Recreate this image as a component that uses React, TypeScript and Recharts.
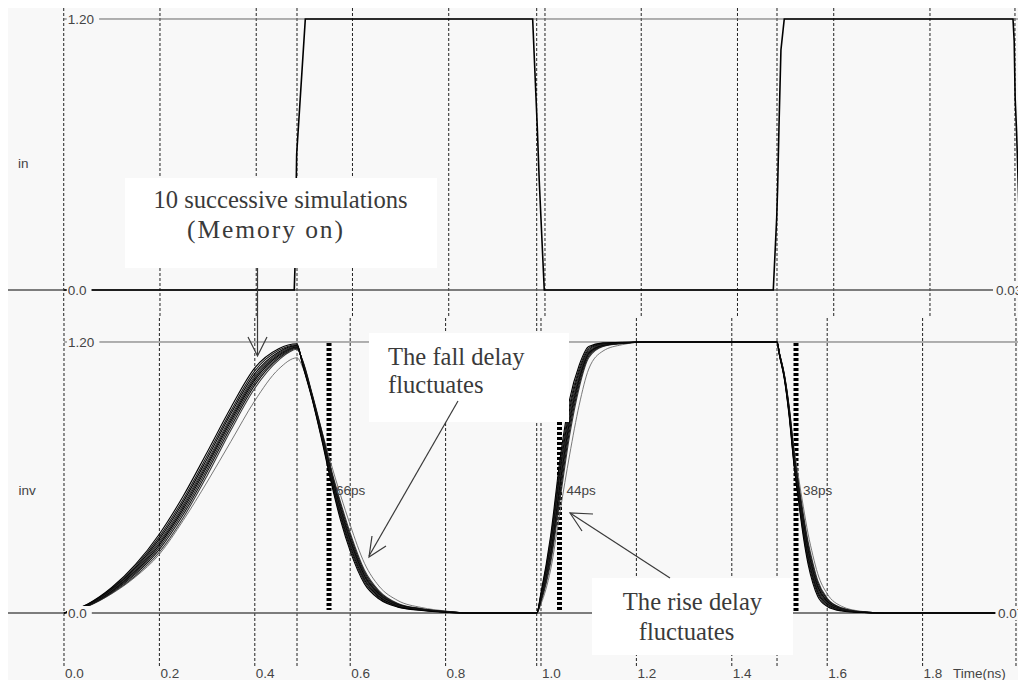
import { LineChart, Line, XAxis, YAxis, ReferenceLine, ReferenceDot } from 'recharts';

const BG = '#f8f8f8';
const SANS = '"Liberation Sans", Arial, sans-serif';
const SERIF = '"Liberation Serif", "Times New Roman", serif';

// time axis (ns)
const TIME_TICKS = [0, 0.2, 0.4, 0.6, 0.8, 1.0, 1.2, 1.4, 1.6, 1.8, 1.8616];
const TIME_LABELS = ['0.0', '0.2', '0.4', '0.6', '0.8', '1.0', '1.2', '1.4', '1.6', '1.8', 'Time(ns)'];
const GRID_TIMES = [0, 0.2, 0.4, 0.6, 0.8, 1.0, 1.2, 1.4, 1.6, 1.8];
// cursor lines sitting on the input edges
const IN_CURSORS = [0.4847, 0.9828, 1.4821, 1.9766];
const INV_CURSORS = [0.4885, 0.991, 1.4948, 1.9958];

// input pulse "in"
const IN_T = [0, 0.479, 0.4805, 0.484, 0.502, 0.9744, 0.9813, 0.984, 0.988, 0.9985, 1.4744, 1.4815, 1.4835, 1.4862, 1.4903, 1.4972, 1.9725, 1.975, 1.977, 1.98, 1.99];
const IN_V = [0, 0, 0.1, 0.6, 1.2, 1.2, 0.855, 0.722, 0.487, 0, 0, 0.32, 0.456, 0.72, 1.063, 1.2, 1.2, 1.1, 0.85, 0.7, 0];

// inverter output "inv", 10 successive runs
const T_INV = [
  0, 0.05, 0.1, 0.15, 0.2, 0.25, 0.3, 0.35, 0.4, 0.45, 0.4885,
  0.5, 0.52, 0.54, 0.56, 0.58, 0.6, 0.63, 0.66, 0.7, 0.75, 0.8, 0.85,
  0.991,
  1.0, 1.02, 1.04, 1.06, 1.08, 1.1, 1.13, 1.17, 1.22,
  1.4948,
  1.5, 1.51, 1.52, 1.53, 1.54, 1.55, 1.56, 1.57, 1.58, 1.6, 1.63, 1.67, 1.72,
  1.952,
];
const RUN_1 = [
  0, 0.04, 0.113, 0.215, 0.35, 0.518, 0.712, 0.91, 1.085, 1.17, 1.192,
  1.1, 0.948, 0.77, 0.578, 0.409, 0.274, 0.129, 0.063, 0.026, 0.011, 0.003, 0,
  0,
  0.09, 0.34, 0.683, 0.946, 1.097, 1.18, 1.196, 1.199, 1.2,
  1.2,
  1.14, 1.038, 0.876, 0.662, 0.494, 0.337, 0.215, 0.131, 0.074, 0.029, 0.009, 0.002, 0,
  0,
];
const RUN_2 = [
  0, 0.039, 0.109, 0.208, 0.338, 0.504, 0.696, 0.895, 1.072, 1.163, 1.188,
  1.103, 0.952, 0.776, 0.587, 0.421, 0.286, 0.138, 0.068, 0.028, 0.012, 0.004, 0,
  0,
  0.084, 0.322, 0.656, 0.922, 1.082, 1.173, 1.194, 1.198, 1.2,
  1.2,
  1.142, 1.041, 0.882, 0.671, 0.506, 0.352, 0.23, 0.145, 0.085, 0.034, 0.011, 0.003, 0,
  0,
];
const RUN_3 = [
  0, 0.037, 0.106, 0.201, 0.328, 0.492, 0.683, 0.883, 1.06, 1.156, 1.185,
  1.106, 0.955, 0.781, 0.595, 0.431, 0.296, 0.146, 0.073, 0.03, 0.013, 0.004, 0,
  0,
  0.079, 0.307, 0.634, 0.902, 1.07, 1.166, 1.192, 1.197, 1.2,
  1.2,
  1.143, 1.044, 0.887, 0.679, 0.516, 0.365, 0.243, 0.156, 0.093, 0.039, 0.013, 0.003, 0,
  0,
];
const RUN_4 = [
  0, 0.036, 0.103, 0.195, 0.318, 0.48, 0.67, 0.87, 1.049, 1.15, 1.182,
  1.108, 0.958, 0.786, 0.602, 0.441, 0.306, 0.153, 0.077, 0.032, 0.014, 0.005, 0,
  0,
  0.074, 0.292, 0.611, 0.882, 1.057, 1.16, 1.19, 1.197, 1.2,
  1.2,
  1.144, 1.046, 0.892, 0.686, 0.526, 0.377, 0.255, 0.167, 0.102, 0.043, 0.015, 0.004, 0,
  0,
];
const RUN_5 = [
  0, 0.035, 0.1, 0.19, 0.31, 0.47, 0.66, 0.86, 1.04, 1.145, 1.18,
  1.11, 0.96, 0.79, 0.608, 0.449, 0.314, 0.159, 0.081, 0.034, 0.015, 0.005, 0,
  0,
  0.07, 0.28, 0.593, 0.866, 1.047, 1.155, 1.188, 1.196, 1.2,
  1.2,
  1.145, 1.048, 0.896, 0.692, 0.534, 0.387, 0.265, 0.176, 0.109, 0.047, 0.016, 0.004, 0,
  0,
];
const RUN_6 = [
  0, 0.034, 0.097, 0.185, 0.302, 0.46, 0.65, 0.85, 1.031, 1.14, 1.178,
  1.112, 0.962, 0.794, 0.614, 0.457, 0.322, 0.165, 0.085, 0.036, 0.016, 0.005, 0,
  0,
  0.066, 0.268, 0.575, 0.85, 1.037, 1.15, 1.186, 1.195, 1.2,
  1.2,
  1.146, 1.05, 0.9, 0.698, 0.542, 0.397, 0.275, 0.185, 0.116, 0.051, 0.017, 0.004, 0,
  0,
];
const RUN_7 = [
  0, 0.033, 0.094, 0.179, 0.292, 0.448, 0.637, 0.838, 1.02, 1.134, 1.175,
  1.115, 0.965, 0.799, 0.622, 0.467, 0.332, 0.173, 0.089, 0.038, 0.017, 0.006, 0,
  0,
  0.061, 0.253, 0.553, 0.83, 1.025, 1.144, 1.184, 1.195, 1.2,
  1.2,
  1.147, 1.053, 0.905, 0.706, 0.552, 0.41, 0.288, 0.196, 0.125, 0.055, 0.019, 0.005, 0,
  0,
];
const RUN_8 = [
  0, 0.032, 0.091, 0.173, 0.282, 0.436, 0.624, 0.825, 1.009, 1.128, 1.172,
  1.117, 0.968, 0.804, 0.629, 0.477, 0.342, 0.18, 0.094, 0.04, 0.018, 0.006, 0,
  0,
  0.056, 0.238, 0.53, 0.81, 1.012, 1.138, 1.182, 1.194, 1.2,
  1.2,
  1.149, 1.055, 0.91, 0.713, 0.562, 0.422, 0.3, 0.208, 0.134, 0.06, 0.021, 0.005, 0,
  0,
];
const RUN_9 = [
  0, 0.03, 0.087, 0.165, 0.27, 0.422, 0.608, 0.81, 0.995, 1.12, 1.168,
  1.12, 0.972, 0.81, 0.638, 0.489, 0.354, 0.189, 0.099, 0.042, 0.019, 0.007, 0,
  0,
  0.05, 0.22, 0.503, 0.786, 0.997, 1.13, 1.18, 1.193, 1.2,
  1.2,
  1.15, 1.058, 0.916, 0.722, 0.574, 0.437, 0.315, 0.221, 0.144, 0.065, 0.023, 0.006, 0,
  0,
];
const RUN_10 = [
  0, 0.03, 0.085, 0.16, 0.26, 0.41, 0.58, 0.76, 0.94, 1.08, 1.13,
  1.09, 0.96, 0.81, 0.66, 0.52, 0.39, 0.22, 0.12, 0.055, 0.024, 0.009, 0,
  0,
  0.04, 0.19, 0.45, 0.7, 0.92, 1.08, 1.16, 1.188, 1.2,
  1.2,
  1.15, 1.06, 0.92, 0.74, 0.6, 0.47, 0.35, 0.255, 0.175, 0.085, 0.03, 0.008, 0,
  0,
];
const RUNS = [RUN_10, RUN_9, RUN_8, RUN_7, RUN_6, RUN_5, RUN_4, RUN_3, RUN_2, RUN_1];
const RUN_COLORS = ['#6a6a6a', '#3a3a3a', '#111', '#222', '#000', '#111', '#2a2a2a', '#000', '#1a1a1a', '#000'];

// delay measurements
const MEASURE_T = [0.5556, 1.0388, 1.5346];
const MEASURE_TOP = [1.196, 0.846, 1.196];
const MEASURE_BOTTOM = [0.013, 0.013, 0.005];
const MEASURE_LABEL_V = [0.545, 0.545, 0.545];
const MEASURE_TEXT = ['66ps', '44ps', '38ps'];

const TOP_X = [-0.1158, 1.9829];
const TOP_Y = [-0.1151, 1.2487];
const BOT_X = [-0.1174, 2.0];
const BOT_Y = [-0.2347, 1.3151];

const inRows = IN_T.map((t, i) => ({ t, v: IN_V[i] }));
const invRows = T_INV.map((t, i) => {
  const row: Record<string, number> = { t };
  RUNS.forEach((r, k) => {
    row[`r${k}`] = r[i];
  });
  return row;
});

function levelTag(text: string, side: 'left' | 'right') {
  return (p: any) => {
    const { x, y } = p.viewBox;
    const w = text.length * 7.6;
    const tx = side === 'left' ? x + 4 : x + 3;
    return (
      <g>
        <rect x={tx - 1} y={y - 7} width={w + 2} height={14} fill={BG} />
        <text x={tx} y={y + 5} fontSize={13.5} fill="#444" fontFamily={SANS}>
          {text}
        </text>
      </g>
    );
  };
}

function plainTag(text: string, dx: number) {
  return (p: any) => {
    const { x, y } = p.viewBox;
    return (
      <text x={x + dx} y={y + 5} fontSize={13.5} fill="#444" fontFamily={SANS}>
        {text}
      </text>
    );
  };
}

function TimeTick(props: any) {
  const { x, y, payload } = props;
  const label = TIME_LABELS[TIME_TICKS.indexOf(payload.value)];
  return (
    <text x={x + 1} y={y + 11.5} fontSize={13.5} fill="#444" fontFamily={SANS}>
      {label}
    </text>
  );
}

function Callouts() {
  const ink = '#3a3a3a';
  return (
    <svg
      width={1018}
      height={680}
      style={{ position: 'absolute', left: 0, top: 0, pointerEvents: 'none' }}
    >
      <rect x={125} y={178} width={312} height={90} fill="#fff" />
      <text x={280.5} y={208} textAnchor="middle" fontSize={24.6} fill={ink} fontFamily={SERIF}>
        10 successive simulations
      </text>
      <text x={187} y={238} textLength={156} lengthAdjust="spacing" fontSize={25.5} fill={ink} fontFamily={SERIF}>
        (Memory on)
      </text>
      <line x1={257.5} y1={268} x2={257.5} y2={355} stroke={ink} strokeWidth={1.2} />
      <polyline points="248,337 257.5,356 267,337" fill="none" stroke={ink} strokeWidth={1.2} />

      <rect x={369} y={333} width={200} height={89} fill="#fff" />
      <text x={388} y={365} fontSize={24.6} fill={ink} fontFamily={SERIF}>
        The fall delay
      </text>
      <text x={388} y={393} fontSize={24.6} fill={ink} fontFamily={SERIF}>
        fluctuates
      </text>
      <line x1={458} y1={401} x2={369} y2={556} stroke={ink} strokeWidth={1.2} />
      <polyline points="372,536 369,557 386,546" fill="none" stroke={ink} strokeWidth={1.2} />

      <rect x={592} y={578} width={201} height={77} fill="#fff" />
      <text x={692.5} y={610} textAnchor="middle" fontSize={24.6} fill={ink} fontFamily={SERIF}>
        The rise delay
      </text>
      <text x={686.5} y={640} textAnchor="middle" fontSize={24.6} fill={ink} fontFamily={SERIF}>
        fluctuates
      </text>
      <line x1={670} y1={578} x2={570} y2={513} stroke={ink} strokeWidth={1.2} />
      <polyline points="593,514 570,513 582,531" fill="none" stroke={ink} strokeWidth={1.2} />
    </svg>
  );
}

export default function App() {
  return (
    <div style={{ position: 'absolute', left: 0, top: 0, width: 1018, height: 680, background: '#fff', overflow: 'hidden' }}>
      <div style={{ position: 'absolute', left: 8, top: 8, width: 1010, height: 672, background: BG }} />

      {/* top panel: in */}
      <div style={{ position: 'absolute', left: 0, top: 0 }}>
        <LineChart width={1018} height={316} data={inRows} margin={{ top: 8, left: 8, right: 0, bottom: 0 }}>
          <XAxis type="number" dataKey="t" domain={TOP_X} hide allowDataOverflow />
          <YAxis type="number" domain={TOP_Y} hide allowDataOverflow />
          {GRID_TIMES.concat(IN_CURSORS).map((t) => (
            <ReferenceLine key={t} x={t} stroke="#222" strokeDasharray="3 2" />
          ))}
          <ReferenceLine segment={[{ x: TOP_X[0], y: 0 }, { x: 1.931, y: 0 }]} stroke="#555" strokeWidth={1.4} />
          <ReferenceLine segment={[{ x: 0, y: 1.2 }, { x: TOP_X[1], y: 1.2 }]} stroke="#666" strokeWidth={1} />
          <Line dataKey="v" type="linear" dot={false} stroke="#000" strokeWidth={1.6} isAnimationActive={false} />
          <ReferenceDot x={0} y={1.2} r={0} fill="none" stroke="none" label={levelTag('1.20', 'left')} />
          <ReferenceDot x={0} y={0} r={0} fill="none" stroke="none" label={levelTag('0.0', 'left')} />
          <ReferenceDot x={1.931} y={0} r={0} fill="none" stroke="none" label={levelTag('0.03', 'right')} />
          <ReferenceDot x={-0.0951} y={0.5624} r={0} fill="none" stroke="none" label={plainTag('in', 0)} />
        </LineChart>
      </div>

      {/* bottom panel: inv */}
      <div style={{ position: 'absolute', left: 0, top: 316 }}>
        <LineChart width={1018} height={364} data={invRows} margin={{ top: 0, left: 8, right: 0, bottom: 0 }}>
          <XAxis
            type="number"
            dataKey="t"
            domain={BOT_X}
            allowDataOverflow
            ticks={TIME_TICKS}
            interval={0}
            height={14}
            axisLine={false}
            tickLine={false}
            tickSize={0}
            tickMargin={0}
            tick={<TimeTick />}
          />
          <YAxis type="number" domain={BOT_Y} hide allowDataOverflow />
          {GRID_TIMES.concat(INV_CURSORS).map((t) => (
            <ReferenceLine key={t} x={t} stroke="#222" strokeDasharray="3 2" />
          ))}
          <ReferenceLine segment={[{ x: BOT_X[0], y: 0 }, { x: 1.952, y: 0 }]} stroke="#555" strokeWidth={1.4} />
          <ReferenceLine segment={[{ x: 0, y: 1.2 }, { x: BOT_X[1], y: 1.2 }]} stroke="#666" strokeWidth={1} />
          {MEASURE_T.map((t, i) => (
            <ReferenceLine
              key={`m${i}`}
              segment={[{ x: t, y: MEASURE_TOP[i] }, { x: t, y: MEASURE_BOTTOM[i] }]}
              stroke="#000"
              strokeWidth={5}
              strokeDasharray="3 2"
            />
          ))}
          {RUNS.map((_, k) => (
            <Line
              key={k}
              dataKey={`r${k}`}
              type="monotone"
              dot={false}
              stroke={RUN_COLORS[k]}
              strokeWidth={k === 0 ? 0.9 : 1.1}
              isAnimationActive={false}
            />
          ))}
          {MEASURE_T.map((t, i) => (
            <ReferenceDot key={`ml${i}`} x={t} y={MEASURE_LABEL_V[i]} r={0} fill="none" stroke="none" label={plainTag(MEASURE_TEXT[i], 7)} />
          ))}
          <ReferenceDot x={0} y={1.2} r={0} fill="none" stroke="none" label={levelTag('1.20', 'left')} />
          <ReferenceDot x={0} y={0} r={0} fill="none" stroke="none" label={levelTag('0.0', 'left')} />
          <ReferenceDot x={1.952} y={0} r={0} fill="none" stroke="none" label={levelTag('0.07', 'right')} />
          <ReferenceDot x={-0.0954} y={0.5448} r={0} fill="none" stroke="none" label={plainTag('inv', 0)} />
        </LineChart>
      </div>

      <Callouts />
    </div>
  );
}
